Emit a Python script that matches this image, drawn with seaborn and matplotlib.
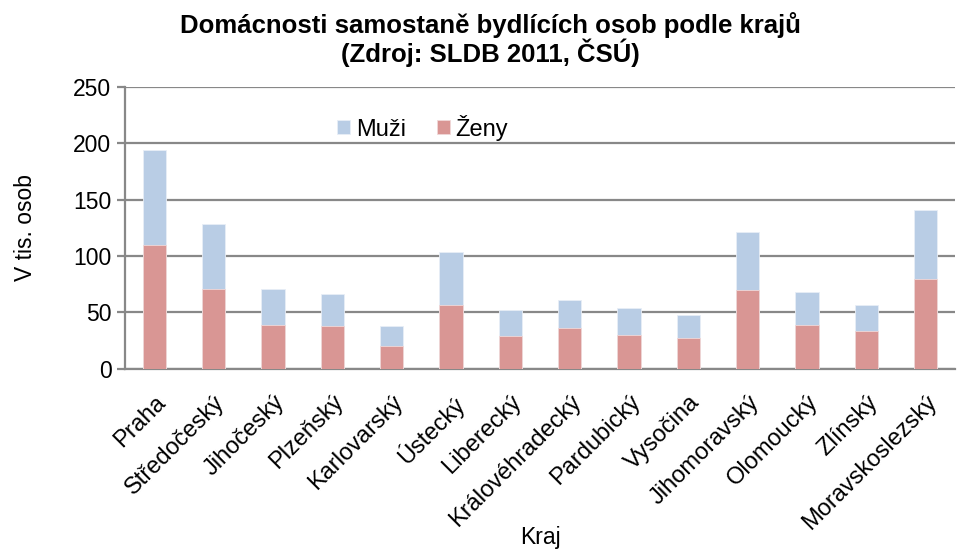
import numpy as np
import pandas as pd
import matplotlib
matplotlib.use('Agg')
import matplotlib.pyplot as plt
import seaborn as sns

# values (thousands of persons)
kraje = ['Praha', 'Středočeský', 'Jihočeský', 'Plzeňský', 'Karlovarský', 'Ústecký',
         'Liberecký', 'Královéhradecký', 'Pardubický', 'Vysočina', 'Jihomoravský',
         'Olomoucký', 'Zlínský', 'Moravskoslezský']
zeny = [110, 71, 39, 38, 20, 57, 29, 36, 30.5, 27, 70, 39, 34, 80]
muzi = [84, 57, 32, 28, 18, 47, 23, 25, 23.5, 21, 51, 29, 23, 61]

df = pd.DataFrame({'Kraj': kraje, 'Ženy': zeny, 'Muži': muzi})
df['Celkem'] = df['Ženy'] + df['Muži']

sns.set_style('white')
plt.rcParams['font.family'] = ['Liberation Sans', 'DejaVu Sans']
plt.rcParams['text.color'] = 'black'
plt.rcParams['xtick.color'] = 'black'
plt.rcParams['ytick.color'] = 'black'
plt.rcParams['axes.labelcolor'] = 'black'

c_muzi = '#b9cde5'
c_zeny = '#d99694'
grid_c = '#888888'
fs = 16.5

fig, ax = plt.subplots(figsize=(9.66, 5.49), dpi=100)

# stacked: total (blue) behind, women (red) in front
sns.barplot(data=df, x='Kraj', y='Celkem', color=c_muzi, saturation=1, width=0.39,
            edgecolor='#e8eef6', linewidth=0.6, ax=ax, label='Muži', zorder=3)
sns.barplot(data=df, x='Kraj', y='Ženy', color=c_zeny, saturation=1, width=0.39,
            edgecolor='#f0d8d8', linewidth=0.6, ax=ax, label='Ženy', zorder=3)

ax.set_ylim(0, 250)
ax.set_xlim(-0.5, len(kraje) - 0.5)
ax.set_yticks(np.arange(0, 251, 50))
ax.yaxis.grid(True, color=grid_c, linewidth=1.6, zorder=0)
ax.set_axisbelow(True)

for s in ['top', 'right']:
    ax.spines[s].set_visible(False)
for s in ['left', 'bottom']:
    ax.spines[s].set_color(grid_c)
    ax.spines[s].set_linewidth(1.6)

# x ticks between categories
ax.set_xticks(np.arange(len(kraje) + 1) - 0.5, minor=True)
ax.tick_params(axis='x', which='major', length=0, labelsize=17, pad=16)
ax.tick_params(axis='x', which='minor', length=6, width=1.6, color=grid_c, direction='out')
ax.tick_params(axis='y', which='major', length=6, width=1.6, color=grid_c,
               direction='out', labelsize=fs, left=True, labelcolor='black')
ax.set_xticklabels(kraje, rotation=45, ha='right', rotation_mode='anchor')

ax.set_xlabel('Kraj', fontsize=fs)
ax.xaxis.set_label_coords(0.5, -0.555)
ax.set_ylabel('V tis. osob', fontsize=fs)
ax.yaxis.set_label_coords(-0.106, 0.5)

fig.text(0.508, 0.978, 'Domácnosti samostaně bydlících osob podle krajů\n(Zdroj: SLDB 2011, ČSÚ)',
         ha='center', va='top', fontsize=18.5, fontweight='bold', linespacing=1.0)

handles, labels = ax.get_legend_handles_labels()
ax.legend(handles, labels, loc='center left', bbox_to_anchor=(0.23, 0.855), ncol=2,
          frameon=False, fontsize=17, handlelength=0.55, handleheight=0.55,
          handletextpad=0.25, columnspacing=1.3)

fig.subplots_adjust(left=0.129, right=0.989, top=0.842, bottom=0.328)
fig.savefig('out.png', dpi=100)
